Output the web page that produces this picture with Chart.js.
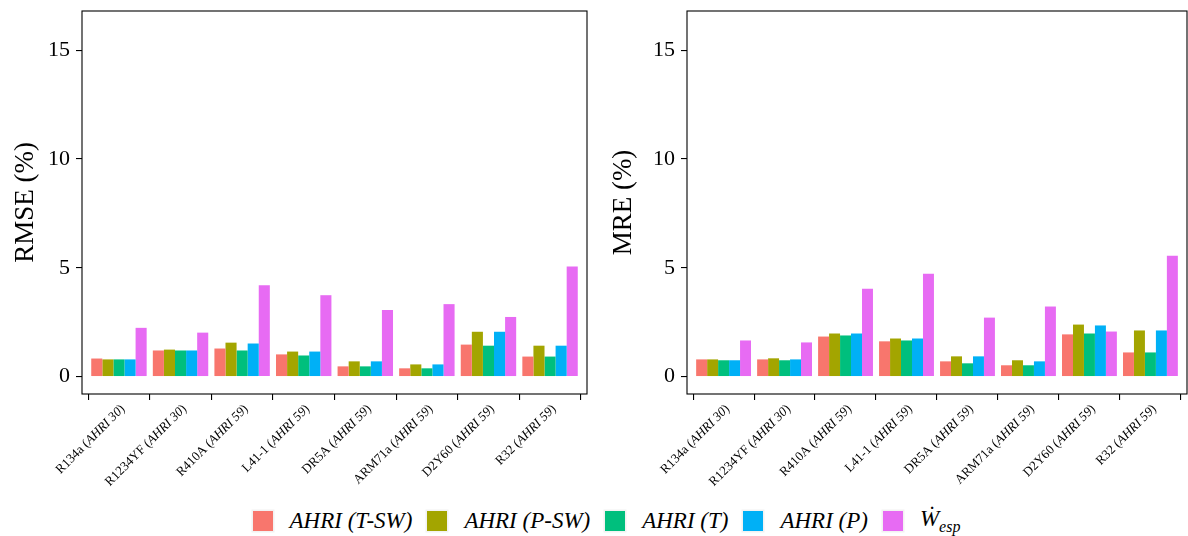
<!DOCTYPE html>
<html>
<head>
<meta charset="utf-8">
<script src="https://cdn.jsdelivr.net/npm/chart.js@4.4.1/dist/chart.umd.min.js"></script>
<style>
  body { margin: 0; background: #fff; width: 1188px; height: 536px; overflow: hidden; position: relative; font-family: "Liberation Serif", "Times New Roman", Times, serif; }
  #left { position: absolute; left: 0; top: 0; }
  #right { position: absolute; left: 594px; top: 0; }
  #legend { position: absolute; left: 0; top: 503px; width: 1188px; height: 36px; padding-left: 40px; box-sizing: border-box;
            display: flex; justify-content: center; align-items: center; font-style: italic; font-size: 23px; color: #000; }
  .key { width: 20px; height: 20px; margin-right: 17px; box-shadow: 0 0 0 1.5px #f2f2f2; }
  .lab { margin-right: 15px; white-space: nowrap; }
  .lab sub { font-size: 16px; vertical-align: -6px; }
</style>
</head>
<body>
<canvas id="left" width="594" height="500"></canvas>
<canvas id="right" width="594" height="500"></canvas>
<div id="legend"></div>
<script>
// categories
var refrigerants = ['R134a', 'R1234YF', 'R410A', 'L41-1', 'DR5A', 'ARM71a', 'D2Y60', 'R32'];
var standards = ['AHRI 30', 'AHRI 30', 'AHRI 59', 'AHRI 59', 'AHRI 59', 'AHRI 59', 'AHRI 59', 'AHRI 59'];
var seriesNames = ['AHRI (T-SW)', 'AHRI (P-SW)', 'AHRI (T)', 'AHRI (P)', 'Ẇ|esp'];
var seriesColors = ['#F8766D', '#A3A500', '#00BF7D', '#00B0F6', '#E76BF3'];
var yTicks = [0, 5, 10, 15];

// RMSE (%)
var rmseTSW = [0.83, 1.20, 1.29, 1.02, 0.47, 0.38, 1.47, 0.92];
var rmsePSW = [0.79, 1.24, 1.56, 1.15, 0.70, 0.56, 2.06, 1.42];
var rmseT   = [0.79, 1.20, 1.20, 0.97, 0.47, 0.38, 1.42, 0.92];
var rmseP   = [0.79, 1.20, 1.52, 1.15, 0.70, 0.56, 2.06, 1.42];
var rmseW   = [2.24, 2.02, 4.20, 3.74, 3.06, 3.33, 2.74, 5.06];

// MRE (%)
var mreTSW = [0.79, 0.79, 1.84, 1.62, 0.70, 0.52, 1.94, 1.11];
var mrePSW = [0.79, 0.84, 1.98, 1.75, 0.93, 0.75, 2.39, 2.12];
var mreT   = [0.75, 0.75, 1.89, 1.66, 0.61, 0.52, 1.98, 1.11];
var mreP   = [0.75, 0.79, 1.98, 1.75, 0.93, 0.70, 2.35, 2.12];
var mreW   = [1.66, 1.57, 4.04, 4.73, 2.71, 3.22, 2.07, 5.55];

var serif = '"Liberation Serif", "Times New Roman", Times, serif';

// panel border + mixed-font rotated x labels
var panelPlugin = {
  id: 'panel',
  afterDraw: function (chart) {
    var ctx = chart.ctx, a = chart.chartArea, sx = chart.scales.x;
    ctx.save();
    ctx.strokeStyle = '#000';
    ctx.lineWidth = 1.1;
    ctx.strokeRect(a.left, a.top, a.right - a.left, a.bottom - a.top);

    ctx.fillStyle = '#000';
    ctx.textBaseline = 'middle';
    var normal = '13px ' + serif, italic = 'italic 13px ' + serif;
    for (var i = 0; i < refrigerants.length; i++) {
      var parts = [[refrigerants[i] + ' (', normal], [standards[i], italic], [')', normal]];
      var w = 0;
      parts.forEach(function (p) { ctx.font = p[1]; w += ctx.measureText(p[0]).width; });
      var px = sx.getPixelForValue(i + 1);
      ctx.save();
      ctx.translate(px + 4, sx.top + 13);
      ctx.rotate(-Math.PI / 4);
      var x = -w;
      parts.forEach(function (p) { ctx.font = p[1]; ctx.fillText(p[0], x, 0); x += ctx.measureText(p[0]).width; });
      ctx.restore();
    }
    ctx.restore();
  }
};

function makeChart(id, title, series, axisWidth, titlePad, rightPad) {
  var datasets = series.map(function (vals, s) {
    return {
      label: seriesNames[s],
      backgroundColor: seriesColors[s],
      borderWidth: 0,
      categoryPercentage: 0.9,
      barPercentage: 1.0,
      data: vals.map(function (v, i) { return { x: i + 1, y: v }; })
    };
  });

  return new Chart(document.getElementById(id), {
    type: 'bar',
    data: { datasets: datasets },
    plugins: [panelPlugin],
    options: {
      responsive: false,
      animation: false,
      layout: { padding: { top: 11, right: rightPad, left: 0, bottom: 0 } },
      plugins: { legend: { display: false }, tooltip: { enabled: false } },
      scales: {
        x: {
          type: 'linear',
          min: 0.4,
          max: 8.6,
          offset: false,
          afterBuildTicks: function (scale) {
            scale.ticks = refrigerants.map(function (r, i) { return { value: i + 1 }; });
          },
          afterFit: function (scale) {
            scale.height = 106;
            scale.paddingLeft = 0; scale.paddingRight = 0;
          },
          ticks: { display: false },
          grid: { drawOnChartArea: false, drawTicks: true, tickLength: 6, color: '#000', lineWidth: 1.1 },
          border: { display: false }
        },
        y: {
          min: -0.8,
          max: 16.8,
          afterBuildTicks: function (scale) {
            scale.ticks = yTicks.map(function (v) { return { value: v }; });
          },
          afterFit: function (scale) {
            scale.width = axisWidth;
            scale.paddingTop = 0; scale.paddingBottom = 0;
          },
          ticks: { color: '#000', padding: 6, font: { family: serif, size: 22 } },
          grid: { drawOnChartArea: false, drawTicks: true, tickLength: 6, color: '#000', lineWidth: 1.1 },
          border: { display: false },
          title: { display: true, text: title, color: '#000', font: { family: serif, size: 27 }, padding: { top: titlePad, bottom: 0 } }
        }
      }
    }
  });
}

makeChart('left', 'RMSE (%)', [rmseTSW, rmsePSW, rmseT, rmseP, rmseW], 82, 10, 7);
makeChart('right', 'MRE (%)', [mreTSW, mrePSW, mreT, mreP, mreW], 93, 14, 1);

// legend as text
var legend = document.getElementById('legend');
seriesNames.forEach(function (name, s) {
  var key = document.createElement('span');
  key.className = 'key';
  key.style.background = seriesColors[s];
  var lab = document.createElement('span');
  lab.className = 'lab';
  var bits = name.split('|');
  lab.textContent = bits[0];
  if (bits[1]) {
    var sub = document.createElement('sub');
    sub.textContent = bits[1];
    lab.appendChild(sub);
  }
  legend.appendChild(key);
  legend.appendChild(lab);
});
</script>
</body>
</html>
